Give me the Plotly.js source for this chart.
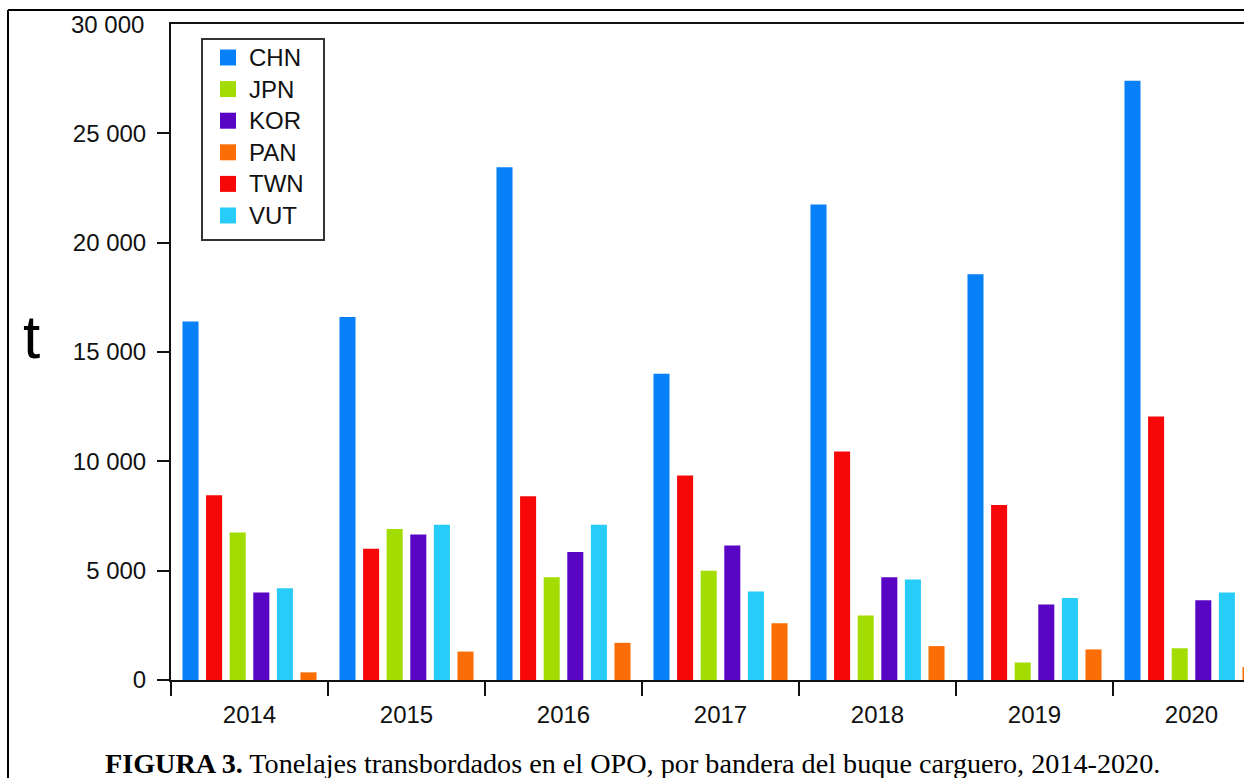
<!DOCTYPE html>
<html>
<head>
<meta charset="utf-8">
<script src="https://cdn.plot.ly/plotly-3.0.1.min.js"></script>
<style>
  html, body { margin: 0; padding: 0; background: #fff; overflow: hidden; }
  #chart { width: 1300px; height: 778px; }
</style>
</head>
<body>
<div id="chart"></div>
<script>
// Categories (years)
const years = ['2014', '2015', '2016', '2017', '2018', '2019', '2020'];

// Tonnes transshipped, by carrier flag
const CHN = [16400, 16600, 23450, 14000, 21750, 18550, 27400];
const TWN = [8450, 6000, 8400, 9350, 10450, 8000, 12050];
const JPN = [6750, 6900, 4700, 5000, 2950, 800, 1450];
const KOR = [4000, 6650, 5850, 6150, 4700, 3450, 3650];
const VUT = [4200, 7100, 7100, 4050, 4600, 3750, 4000];
const PAN = [350, 1300, 1700, 2600, 1550, 1400, 600];

// Y tick labels
const yTickVals = [0, 5000, 10000, 15000, 20000, 25000];
const yTickText = ['0', '5 000', '10 000', '15 000', '20 000', '25 000'];
const yTopLabel = '30 000';

// Legend order (alphabetical, as in the figure)
const legendOrder = ['CHN', 'JPN', 'KOR', 'PAN', 'TWN', 'VUT'];

const series = [
  {name: 'CHN', y: CHN, color: '#0880F8'},
  {name: 'TWN', y: TWN, color: '#F60808'},
  {name: 'JPN', y: JPN, color: '#A3DC00'},
  {name: 'KOR', y: KOR, color: '#5806C4'},
  {name: 'VUT', y: VUT, color: '#27CCF8'},
  {name: 'PAN', y: PAN, color: '#FA6E05'}
];

const traces = series.map(s => ({
  type: 'bar',
  name: s.name,
  x: years,
  y: s.y,
  marker: {color: s.color, line: {width: 0}},
  hoverinfo: 'x+y+name',
  showlegend: false
}));

const W = 1300, H = 778;
const mL = 171, mR = 30, mT = 24, mB = 98;
const pw = W - mL - mR, ph = H - mT - mB;
const px = v => (v - mL) / pw;          // pixel x -> paper
const py = v => (H - mB - v) / ph;      // pixel y -> paper

const shapes = [
  // outer figure frame
  {type: 'line', xref: 'paper', yref: 'paper', x0: px(8), x1: px(1300), y0: py(10), y1: py(10),
   line: {color: '#000', width: 2}},
  {type: 'line', xref: 'paper', yref: 'paper', x0: px(8), x1: px(8), y0: py(10), y1: py(790),
   line: {color: '#000', width: 2}},
  // legend box
  {type: 'rect', xref: 'paper', yref: 'paper', x0: px(202), x1: px(324), y0: py(39), y1: py(240),
   line: {color: '#333', width: 2}, fillcolor: '#fff', layer: 'above'}
];

const annotations = [
  {text: yTopLabel, xref: 'paper', yref: 'y', x: px(146), y: 30000,
   xanchor: 'right', yanchor: 'middle', showarrow: false,
   font: {size: 24, color: '#111'}},
  {text: 't', xref: 'paper', yref: 'paper', x: px(31), y: py(336),
   xanchor: 'center', yanchor: 'middle', showarrow: false,
   font: {size: 62, color: '#000'}},
  {text: '<b>FIGURA 3.</b> Tonelajes transbordados en el OPO, por bandera del buque carguero, 2014-2020.',
   xref: 'paper', yref: 'paper', x: px(103), y: py(763),
   xanchor: 'left', yanchor: 'middle', showarrow: false,
   font: {family: '"Liberation Serif", "Times New Roman", serif', size: 28.2, color: '#000'}}
];

legendOrder.forEach((name, i) => {
  const s = series.find(t => t.name === name);
  const cy = 57.5 + i * 31.6;
  shapes.push({type: 'rect', xref: 'paper', yref: 'paper',
    x0: px(220), x1: px(236), y0: py(cy - 8), y1: py(cy + 8),
    line: {width: 0}, fillcolor: s.color, layer: 'above'});
  annotations.push({text: name, xref: 'paper', yref: 'paper', x: px(247), y: py(cy),
    xanchor: 'left', yanchor: 'middle', showarrow: false,
    font: {size: 24, color: '#111'}});
});

const layout = {
  width: W, height: H,
  margin: {l: mL, r: mR, t: mT, b: mB, pad: 0},
  paper_bgcolor: '#fff',
  plot_bgcolor: '#fff',
  barmode: 'group',
  bargap: 0.098,
  bargroupgap: 0.32,
  font: {family: '"Liberation Sans", Arial, sans-serif', size: 24, color: '#111'},
  showlegend: false,
  xaxis: {
    type: 'category',
    range: [-0.5, 6.5],
    showline: true, linecolor: '#111', linewidth: 2, mirror: true,
    ticks: 'outside', tickson: 'boundaries', ticklen: 14, tickwidth: 2, tickcolor: '#111',
    tickfont: {size: 24, color: '#111'},
    ticklabelstandoff: 12,
    showgrid: false, zeroline: false, fixedrange: true
  },
  yaxis: {
    range: [0, 30000],
    tickmode: 'array', tickvals: yTickVals, ticktext: yTickText,
    showline: true, linecolor: '#111', linewidth: 2, mirror: true,
    ticks: 'outside', ticklen: 12, tickwidth: 2, tickcolor: '#111',
    tickfont: {size: 24, color: '#111'},
    ticklabelstandoff: 6,
    showgrid: false, zeroline: false, fixedrange: true
  },
  annotations: annotations,
  shapes: shapes
};

Plotly.newPlot('chart', traces, layout, {displayModeBar: false, staticPlot: true});
</script>
</body>
</html>
